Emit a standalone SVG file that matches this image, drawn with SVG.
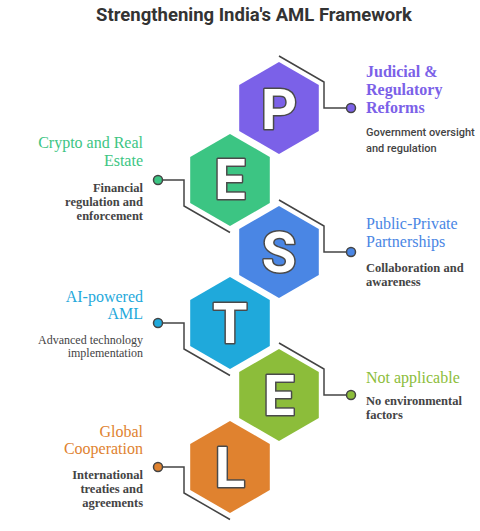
<svg xmlns="http://www.w3.org/2000/svg" width="480" height="531" viewBox="0 0 480 531">
<style>
.let{font-family:Roboto,"Liberation Sans",sans-serif;font-weight:700;font-size:56px;fill:#fff;stroke:#4a4a4a;stroke-width:3;paint-order:stroke;stroke-linejoin:round;text-anchor:middle}
.ttl{font-family:"Liberation Serif",serif;font-size:16px}
.b{font-weight:700}
.dsc{font-family:"Liberation Serif",serif;font-size:12px;fill:#444}
.dsc.b{font-size:12.5px}
.dsans{font-family:Roboto,"Liberation Sans",sans-serif;font-size:11px;font-weight:500;fill:#444}
.r{text-anchor:end}
.ln{fill:none;stroke:#444;stroke-width:1.5}
.dot{stroke:#444;stroke-width:1.5}
</style>
<defs>
<polygon id="hx" points="0,-46 39.8,-23 39.8,23 0,46 -39.8,23 -39.8,-23"/>
</defs>
<text x="254" y="21" text-anchor="middle" font-family="Roboto,'Liberation Sans',sans-serif" font-weight="700" font-size="18.5" fill="#333">Strengthening India's AML Framework</text>
<g id="connectors">
<polyline class="ln" points="279,56 324,82 324,108 347,108"/>
<circle class="dot" cx="351" cy="108" r="4.5" fill="#7b61e8"/>
<polyline class="ln" points="162,180 184,180 184,206 230,232.5"/>
<circle class="dot" cx="158" cy="180" r="4.5" fill="#3cc583"/>
<polyline class="ln" points="279,200 324,226 324,252 347,252"/>
<circle class="dot" cx="351" cy="252" r="4.5" fill="#4a86e4"/>
<polyline class="ln" points="162,323 184,323 184,349 230,375.5"/>
<circle class="dot" cx="158" cy="323" r="4.5" fill="#1fa9db"/>
<polyline class="ln" points="279,343 324,369 324,395 347,395"/>
<circle class="dot" cx="351" cy="395" r="4.5" fill="#8cbd3a"/>
<polyline class="ln" points="162,467 184,467 184,493 230,519.5"/>
<circle class="dot" cx="158" cy="467" r="4.5" fill="#e0822f"/>
</g>
<g id="node-P">
<use href="#hx" x="279" y="108" fill="#7b61e8"/>
<text class="let" x="279" y="129">P</text>
<text class="ttl b" fill="#7b61e8" x="366" y="77">Judicial &amp;</text>
<text class="ttl b" fill="#7b61e8" x="366" y="95">Regulatory</text>
<text class="ttl b" fill="#7b61e8" x="366" y="113">Reforms</text>
<text class="dsans" x="366" y="136">Government oversight</text>
<text class="dsans" x="366" y="152">and regulation</text>
</g>
<g id="node-E1">
<use href="#hx" x="230" y="180" fill="#3cc583"/>
<text class="let" x="230" y="199">E</text>
<text class="ttl r" fill="#3cc583" x="143" y="148">Crypto and Real</text>
<text class="ttl r" fill="#3cc583" x="143" y="166">Estate</text>
<text class="dsc b r" x="143" y="192">Financial</text>
<text class="dsc b r" x="143" y="206">regulation and</text>
<text class="dsc b r" x="143" y="220">enforcement</text>
</g>
<g id="node-S">
<use href="#hx" x="279" y="252" fill="#4a86e4"/>
<text class="let" x="279" y="272">S</text>
<text class="ttl" fill="#4a86e4" x="366" y="229">Public-Private</text>
<text class="ttl" fill="#4a86e4" x="366" y="247">Partnerships</text>
<text class="dsc b" x="366" y="272">Collaboration and</text>
<text class="dsc b" x="366" y="286">awareness</text>
</g>
<g id="node-T">
<use href="#hx" x="230" y="323" fill="#1fa9db"/>
<text class="let" x="230" y="343">T</text>
<text class="ttl r" fill="#1fa9db" x="143" y="302">AI-powered</text>
<text class="ttl r" fill="#1fa9db" x="143" y="319">AML</text>
<text class="dsc r" x="143" y="344">Advanced technology</text>
<text class="dsc r" x="143" y="357">implementation</text>
</g>
<g id="node-E2">
<use href="#hx" x="279" y="395" fill="#8cbd3a"/>
<text class="let" x="279" y="415">E</text>
<text class="ttl" fill="#8cbd3a" x="366" y="383">Not applicable</text>
<text class="dsc b" x="366" y="405">No environmental</text>
<text class="dsc b" x="366" y="419">factors</text>
</g>
<g id="node-L">
<use href="#hx" x="230" y="467" fill="#e0822f"/>
<text class="let" x="230" y="487">L</text>
<text class="ttl r" fill="#e0822f" x="143" y="437">Global</text>
<text class="ttl r" fill="#e0822f" x="143" y="454">Cooperation</text>
<text class="dsc b r" x="143" y="479">International</text>
<text class="dsc b r" x="143" y="493">treaties and</text>
<text class="dsc b r" x="143" y="507">agreements</text>
</g>
</svg>
